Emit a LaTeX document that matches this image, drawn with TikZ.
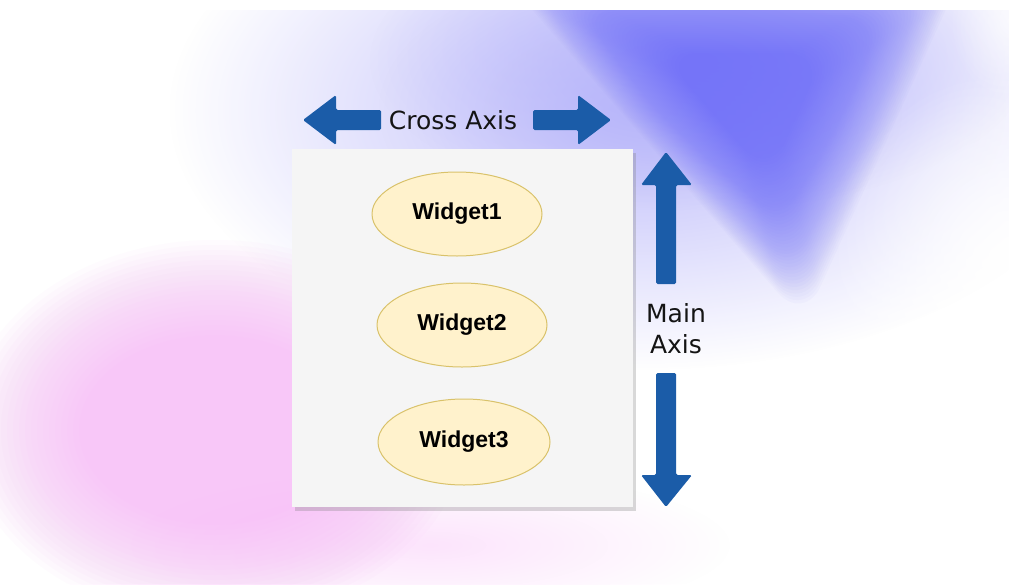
\documentclass[tikz,border=0pt]{standalone}
\usepackage{fontspec}
\setmainfont{DejaVu Sans}
\newfontfamily\widgetfont{Liberation Sans}
\usetikzlibrary{fadings,shadows,shapes.geometric}

\definecolor{axisblue}{HTML}{1B5CA8}
\definecolor{panelgray}{HTML}{F5F5F5}
\definecolor{widgetfill}{HTML}{FFF2CC}
\definecolor{widgetline}{HTML}{D9C26A}
\definecolor{labelgray}{HTML}{141414}
\definecolor{blobblue}{HTML}{7070F8}
\definecolor{bloblav}{HTML}{B4B2FA}
\definecolor{blobpink}{HTML}{F8B2F8}

\tikzfading[name=softblob, inner color=transparent!0, outer color=transparent!100]

\tikzset{
  blob/.style={path fading=softblob, fill=#1},
  widget/.style={ellipse, draw=widgetline, line width=1pt, fill=widgetfill,
    minimum width=170pt, minimum height=84pt, inner sep=0pt,
    font=\widgetfont\bfseries\fontsize{23}{26}\selectfont, text=black},
  axislabel/.style={font=\fontsize{25}{31}\selectfont, text=labelgray, align=center},
  axisarrow/.style={fill=axisblue, rounded corners=1.5pt},
}

\begin{document}
\begin{tikzpicture}[x=1pt,y=-1pt]
\useasboundingbox (0,0) rectangle (1009,584);
\fill[white] (0,0) rectangle (1009,584);

% soft coloured haze in the background
\begin{scope}
\clip (0,10) rectangle (1009,584);
% lavender wash across the top
\fill[blob=bloblav, opacity=0.9] (640,110) ellipse (470 and 260);
\fill[blob=bloblav, opacity=0.8] (700,60) ellipse (330 and 150);
% blue wedge pointing down, softened by many thin layers
\foreach \i in {0,...,44} {
  \pgfmathsetmacro{\s}{1.35-0.02*\i}
  \begin{scope}[shift={(750,100)}, scale=\s]
    \fill[blobblue, opacity=0.032, rounded corners=40pt]
      (-190,-100) -- (160,-100) -- (40,165) -- cycle;
  \end{scope}
}
% whitish fade on the right
\fill[blob=white, opacity=0.95] (1010,260) ellipse (180 and 190);
\fill[blob=white, opacity=0.6] (1009,20) ellipse (60 and 80);
% pink glow at the lower left, built from many thin layers
\foreach \i in {0,...,19} {
  \fill[blobpink, opacity=0.05] (215,430) ellipse ({250-6*\i} and {190-5*\i});
}
\fill[blob=blobpink, opacity=0.35] (430,545) ellipse (300 and 75);
\end{scope}

% the container with its three widgets
\node[draw=none, fill=panelgray, minimum width=341pt, minimum height=358pt,
      inner sep=0pt, drop shadow={shadow xshift=3pt, shadow yshift=-4pt, opacity=0.3, fill=gray}]
      (panel) at (462.5,328) {};

\node[widget] (w1) at (457,214) {Widget1};
\node[widget] (w2) at (462,325) {Widget2};
\node[widget, minimum width=172pt, minimum height=86pt] (w3) at (464,442) {Widget3};

% cross axis
\node[axislabel] (cross) at (453,120) {Cross Axis};
\fill[axisarrow] (303,120) -- (336,95) -- (336,110) -- (381,110) -- (381,130)
  -- (336,130) -- (336,145) -- cycle;
\fill[axisarrow] (611,120) -- (578,95) -- (578,110) -- (533,110) -- (533,130)
  -- (578,130) -- (578,145) -- cycle;

% main axis
\node[axislabel] (main) at (676,329) {Main\\Axis};
\fill[axisarrow] (666,152) -- (692,185) -- (676,185) -- (676,284) -- (656,284)
  -- (656,185) -- (641,185) -- cycle;
\fill[axisarrow] (666,507) -- (692,475) -- (676,475) -- (676,373) -- (656,373)
  -- (656,475) -- (641,475) -- cycle;
\end{tikzpicture}
\end{document}
